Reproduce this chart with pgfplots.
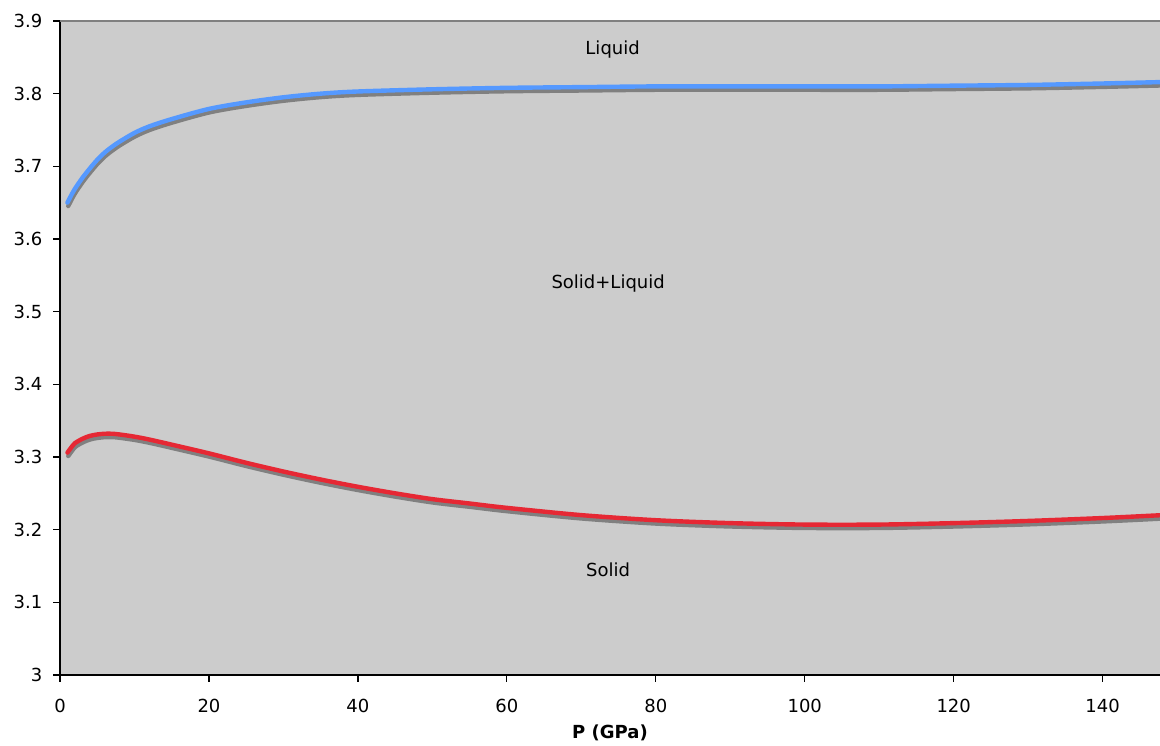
\documentclass[border=0pt]{standalone}
\usepackage{pgfplots}
\pgfplotsset{compat=1.18}
\usepackage{fontspec}
\setmainfont{DejaVu Sans}
\definecolor{bgGray}{RGB}{204,204,204}
\definecolor{shGray}{RGB}{128,128,128}
\definecolor{liqBlue}{RGB}{85,153,255}
\definecolor{solRed}{RGB}{230,40,52}
\begin{document}
\begin{tikzpicture}
\begin{axis}[
  scale only axis,
  width=550pt, height=327pt,
  xmin=0, xmax=147.7, ymin=3, ymax=3.9,
  xtick={0,20,40,60,80,100,120,140},
  ytick={3,3.1,3.2,3.3,3.4,3.5,3.6,3.7,3.8,3.9},
  axis lines=left,
  axis line style={-, black, line width=0.8pt},
  tick align=outside,
  major tick length=3.3pt,
  tick style={black, line width=0.6pt},
  axis background/.style={fill=bgGray},
  font=\fontsize{9}{11}\selectfont,
  /pgf/number format/assume math mode=true,
  yticklabel style={xshift=-2pt},
  xticklabel style={yshift=-5pt},
  xlabel={\textbf{P (GPa)}},
  xlabel style={at={(axis description cs:0.5,0)}, anchor=center, yshift=-29pt},
  clip=true,
]
\addplot[shGray, line width=2.2pt, smooth, line cap=round, yshift=-1.7pt, xshift=0.4pt] coordinates {
(1,3.650) (1.5,3.660) (2,3.669) (3,3.684) (4,3.697) (5,3.709) (6,3.719) (7,3.727) (8,3.734)
(10,3.746) (12,3.755) (15,3.765) (20,3.779) (25,3.788) (30,3.795) (35,3.800) (40,3.803)
(50,3.806) (60,3.808) (70,3.809) (80,3.810) (90,3.810) (100,3.810) (110,3.810) (120,3.811)
(130,3.812) (140,3.814) (148,3.816)};
\addplot[liqBlue, line width=2.2pt, smooth, line cap=round] coordinates {
(1,3.650) (1.5,3.660) (2,3.669) (3,3.684) (4,3.697) (5,3.709) (6,3.719) (7,3.727) (8,3.734)
(10,3.746) (12,3.755) (15,3.765) (20,3.779) (25,3.788) (30,3.795) (35,3.800) (40,3.803)
(50,3.806) (60,3.808) (70,3.809) (80,3.810) (90,3.810) (100,3.810) (110,3.810) (120,3.811)
(130,3.812) (140,3.814) (148,3.816)};
\addplot[shGray, line width=2.2pt, smooth, line cap=round, yshift=-1.7pt, xshift=0.4pt] coordinates {
(1,3.306) (1.5,3.313) (2,3.319) (3,3.325) (4,3.329) (5,3.331) (6,3.332) (7,3.332) (8,3.331)
(10,3.328) (12,3.324) (15,3.317) (20,3.305) (25,3.292) (30,3.280) (35,3.269) (40,3.259)
(45,3.250) (50,3.242) (55,3.236) (60,3.230) (70,3.220) (80,3.213) (90,3.209) (100,3.207)
(110,3.207) (120,3.209) (130,3.212) (140,3.216) (148,3.220)};
\addplot[solRed, line width=2.2pt, smooth, line cap=round] coordinates {
(1,3.306) (1.5,3.313) (2,3.319) (3,3.325) (4,3.329) (5,3.331) (6,3.332) (7,3.332) (8,3.331)
(10,3.328) (12,3.324) (15,3.317) (20,3.305) (25,3.292) (30,3.280) (35,3.269) (40,3.259)
(45,3.250) (50,3.242) (55,3.236) (60,3.230) (70,3.220) (80,3.213) (90,3.209) (100,3.207)
(110,3.207) (120,3.209) (130,3.212) (140,3.216) (148,3.220)};
\node[font=\fontsize{9}{11}\selectfont] at (axis cs:74.2,3.861) {Liquid};
\node[font=\fontsize{9}{11}\selectfont] at (axis cs:73.6,3.539) {Solid+Liquid};
\node[font=\fontsize{9}{11}\selectfont] at (axis cs:73.6,3.1445) {Solid};
\draw[shGray, line width=0.8pt] (rel axis cs:0,1) -- (rel axis cs:1,1);
\end{axis}
\pgfresetboundingbox
\path[use as bounding box] ([shift={(-30pt,-35.5pt)}]current axis.south west) rectangle ([shift={(0pt,10.5pt)}]current axis.north east);
\end{tikzpicture}
\end{document}
